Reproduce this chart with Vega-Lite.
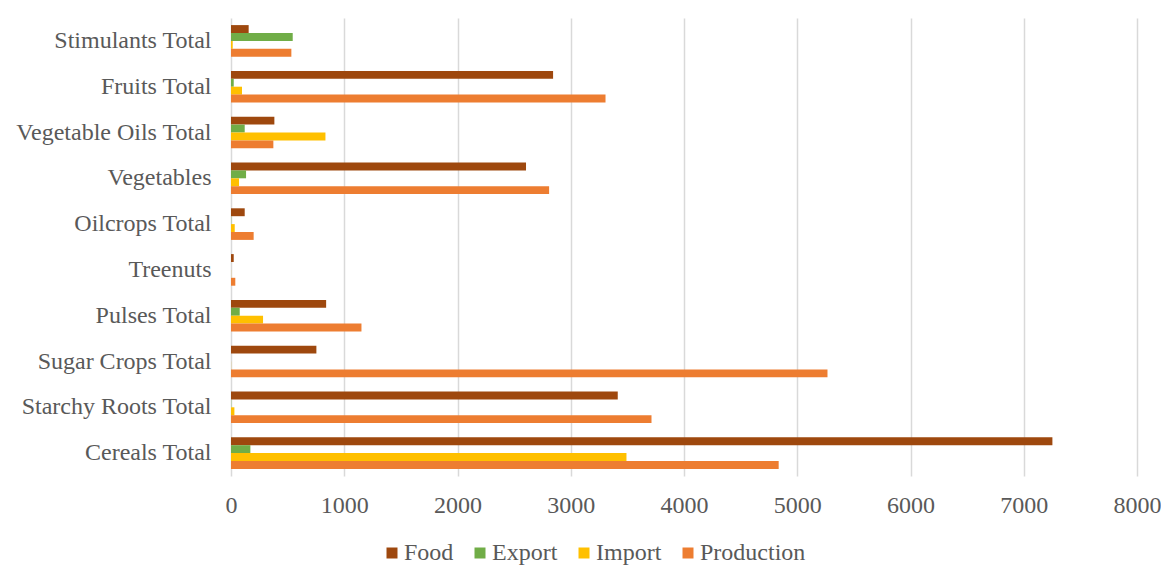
{
  "$schema": "https://vega.github.io/schema/vega-lite/v6.json",
  "width": 906,
  "height": 458,
  "autosize": "none",
  "padding": {"left": 231, "top": 18, "right": 24, "bottom": 90},
  "background": "white",
  "config": {
    "view": {"stroke": null},
    "font": "Liberation Serif",
    "axis": {"labelFont": "Liberation Serif", "labelColor": "#595959", "labelFontSize": 24},
    "legend": {"labelFont": "Liberation Serif", "labelColor": "#595959", "labelFontSize": 24}
  },
  "data": {
    "values": [
      {"group": "Stimulants Total", "item": "Food", "value": 156},
      {"group": "Stimulants Total", "item": "Export", "value": 545},
      {"group": "Stimulants Total", "item": "Import", "value": 15},
      {"group": "Stimulants Total", "item": "Production", "value": 533},
      {"group": "Fruits Total", "item": "Food", "value": 2844},
      {"group": "Fruits Total", "item": "Export", "value": 24},
      {"group": "Fruits Total", "item": "Import", "value": 97},
      {"group": "Fruits Total", "item": "Production", "value": 3307},
      {"group": "Vegetable Oils Total", "item": "Food", "value": 383},
      {"group": "Vegetable Oils Total", "item": "Export", "value": 121},
      {"group": "Vegetable Oils Total", "item": "Import", "value": 834},
      {"group": "Vegetable Oils Total", "item": "Production", "value": 374},
      {"group": "Vegetables", "item": "Food", "value": 2605},
      {"group": "Vegetables", "item": "Export", "value": 133},
      {"group": "Vegetables", "item": "Import", "value": 71},
      {"group": "Vegetables", "item": "Production", "value": 2809},
      {"group": "Oilcrops Total", "item": "Food", "value": 121},
      {"group": "Oilcrops Total", "item": "Export", "value": 2},
      {"group": "Oilcrops Total", "item": "Import", "value": 33},
      {"group": "Oilcrops Total", "item": "Production", "value": 200},
      {"group": "Treenuts", "item": "Food", "value": 24},
      {"group": "Treenuts", "item": "Export", "value": 0},
      {"group": "Treenuts", "item": "Import", "value": 1},
      {"group": "Treenuts", "item": "Production", "value": 38},
      {"group": "Pulses Total", "item": "Food", "value": 840},
      {"group": "Pulses Total", "item": "Export", "value": 77},
      {"group": "Pulses Total", "item": "Import", "value": 283},
      {"group": "Pulses Total", "item": "Production", "value": 1152},
      {"group": "Sugar Crops Total", "item": "Food", "value": 754},
      {"group": "Sugar Crops Total", "item": "Export", "value": 0},
      {"group": "Sugar Crops Total", "item": "Import", "value": 1},
      {"group": "Sugar Crops Total", "item": "Production", "value": 5267},
      {"group": "Starchy Roots Total", "item": "Food", "value": 3415},
      {"group": "Starchy Roots Total", "item": "Export", "value": 2},
      {"group": "Starchy Roots Total", "item": "Import", "value": 30},
      {"group": "Starchy Roots Total", "item": "Production", "value": 3713},
      {"group": "Cereals Total", "item": "Food", "value": 7253},
      {"group": "Cereals Total", "item": "Export", "value": 171},
      {"group": "Cereals Total", "item": "Import", "value": 3492},
      {"group": "Cereals Total", "item": "Production", "value": 4836}
    ]
  },
  "mark": {"type": "bar"},
  "encoding": {
    "y": {
      "field": "group",
      "type": "nominal",
      "sort": ["Stimulants Total", "Fruits Total", "Vegetable Oils Total", "Vegetables", "Oilcrops Total", "Treenuts", "Pulses Total", "Sugar Crops Total", "Starchy Roots Total", "Cereals Total"],
      "scale": {"paddingInner": 0.31, "paddingOuter": 0.155},
      "axis": {"title": null, "ticks": false, "domain": false, "labelPadding": 20, "labelLimit": 400}
    },
    "yOffset": {
      "field": "item",
      "type": "nominal",
      "sort": ["Food", "Export", "Import", "Production"]
    },
    "x": {
      "field": "value",
      "type": "quantitative",
      "scale": {"domain": [0, 8000], "nice": false},
      "axis": {
        "title": null,
        "values": [0, 1000, 2000, 3000, 4000, 5000, 6000, 7000, 8000],
        "format": "d",
        "domain": false,
        "ticks": false,
        "labelFlush": false,
        "labelPadding": 17,
        "grid": true,
        "gridColor": "#d9d9d9",
        "gridWidth": 1.5
      }
    },
    "color": {
      "field": "item",
      "type": "nominal",
      "sort": ["Food", "Export", "Import", "Production"],
      "scale": {
        "domain": ["Food", "Export", "Import", "Production"],
        "range": ["#9E480E", "#70AD47", "#FFC000", "#ED7D31"]
      },
      "legend": {
        "title": null,
        "orient": "none",
        "direction": "horizontal",
        "legendX": 149,
        "legendY": 523,
        "symbolType": "square",
        "symbolSize": 121,
        "symbolStrokeWidth": 0,
        "symbolOpacity": 1,
        "labelOffset": 0,
        "columnPadding": 14
      }
    }
  }
}
